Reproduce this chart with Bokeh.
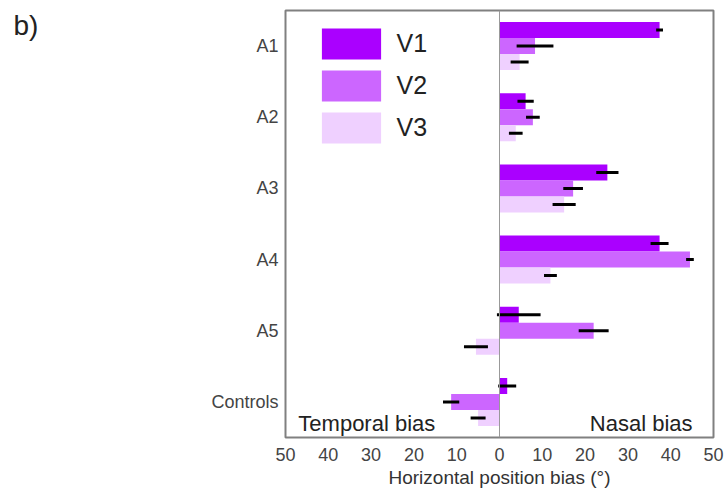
from bokeh.plotting import figure
from bokeh.models import (ColumnDataSource, FactorRange, Range1d, Span, Label,
                          Legend, LegendItem, FixedTicker)
from bokeh.transform import dodge
from bokeh.embed import file_html
from bokeh.resources import INLINE

# ---- data ----
groups = ["A1", "A2", "A3", "A4", "A5", "Controls"]
v1 = [37.4, 6.1, 25.2, 37.4, 4.5, 1.8]
v1_err = [0.8, 1.9, 2.6, 2.1, 5.1, 2.1]
v2 = [8.3, 7.8, 17.2, 44.5, 22.0, -11.3]
v2_err = [4.3, 1.6, 2.3, 0.9, 3.5, 1.9]
v3 = [4.7, 3.8, 15.1, 11.9, -5.5, -5.0]
v3_err = [2.1, 1.6, 2.7, 1.5, 2.8, 1.75]
series_names = ["V1", "V2", "V3"]
colors = ["#aa00ff", "#cc66ff", "#efd0ff"]
x_ticks = [-50, -40, -30, -20, -10, 0, 10, 20, 30, 40, 50]

FONT = "Liberation Sans"

src = ColumnDataSource(dict(
    group=groups,
    v1=v1, v2=v2, v3=v3,
    v1_lo=[v - e for v, e in zip(v1, v1_err)], v1_hi=[v + e for v, e in zip(v1, v1_err)],
    v2_lo=[v - e for v, e in zip(v2, v2_err)], v2_hi=[v + e for v, e in zip(v2, v2_err)],
    v3_lo=[v - e for v, e in zip(v3, v3_err)], v3_hi=[v + e for v, e in zip(v3, v3_err)],
))

p = figure(width=724, height=491, output_backend="svg", toolbar_location=None,
           y_range=FactorRange(factors=list(reversed(groups)), range_padding=0),
           x_range=Range1d(-50, 50),
           min_border_left=285, min_border_right=11, min_border_top=10, min_border_bottom=54)

bh = 0.225
offsets = [bh, 0.0, -bh]
keys = ["v1", "v2", "v3"]
renderers = []
for k, off, c in zip(keys, offsets, colors):
    r = p.hbar(y=dodge("group", off, range=p.y_range), left=0, right=k, height=bh,
               source=src, fill_color=c, line_color=None)
    renderers.append(r)
for k, off in zip(keys, offsets):
    p.segment(x0=k + "_lo", x1=k + "_hi",
              y0=dodge("group", off, range=p.y_range), y1=dodge("group", off, range=p.y_range),
              source=src, line_color="black", line_width=3)

p.add_layout(Span(location=0, dimension="height", line_color="#999999", line_width=1))

legend = Legend(items=[LegendItem(label=n, renderers=[r]) for n, r in zip(series_names, renderers)],
                location=(28.6, 290), padding=0, margin=0, spacing=3,
                glyph_width=74, glyph_height=39, label_height=39, label_standoff=9,
                label_text_font=FONT, label_text_font_size="25px", label_text_color="#222222",
                border_line_color=None, background_fill_alpha=0)
p.add_layout(legend, "center")

p.add_layout(Label(x=-47, y=14, x_units="data", y_units="screen", text="Temporal bias",
                   text_font=FONT, text_font_size="22px", text_color="#222222",
                   text_align="left", text_baseline="alphabetic"))
p.add_layout(Label(x=45.1, y=14, x_units="data", y_units="screen", text="Nasal bias",
                   text_font=FONT, text_font_size="22px", text_color="#222222",
                   text_align="right", text_baseline="alphabetic"))
p.add_layout(Label(x=-170, y=428, x_units="screen", y_units="screen", text="b)",
                   text_font=FONT, text_font_size="28px", text_color="#222222",
                   text_align="left", text_baseline="top"), "left")

p.xgrid.visible = False
p.ygrid.visible = False
p.outline_line_color = "#808080"
p.outline_line_width = 2

xa = p.xaxis[0]
xa.ticker = FixedTicker(ticks=x_ticks)
xa.major_label_overrides = {t: str(abs(t)) for t in x_ticks}
xa.axis_line_color = None
xa.major_tick_line_color = None
xa.minor_tick_line_color = None
xa.major_tick_out = 0
xa.major_tick_in = 0
xa.major_label_standoff = 10
xa.major_label_text_font = FONT
xa.major_label_text_font_size = "18px"
xa.major_label_text_color = "#444444"
xa.axis_label = "Horizontal position bias (°)"
xa.axis_label_text_font = FONT
xa.axis_label_text_font_size = "19px"
xa.axis_label_text_font_style = "normal"
xa.axis_label_text_color = "#333333"
xa.axis_label_standoff = 3

ya = p.yaxis[0]
ya.axis_line_color = None
ya.major_tick_line_color = None
ya.minor_tick_line_color = None
ya.major_tick_out = 0
ya.major_tick_in = 0
ya.major_label_standoff = 7
ya.major_label_text_font = FONT
ya.major_label_text_font_size = "18px"
ya.major_label_text_color = "#444444"

open("out.html", "w").write(file_html(p, INLINE))
